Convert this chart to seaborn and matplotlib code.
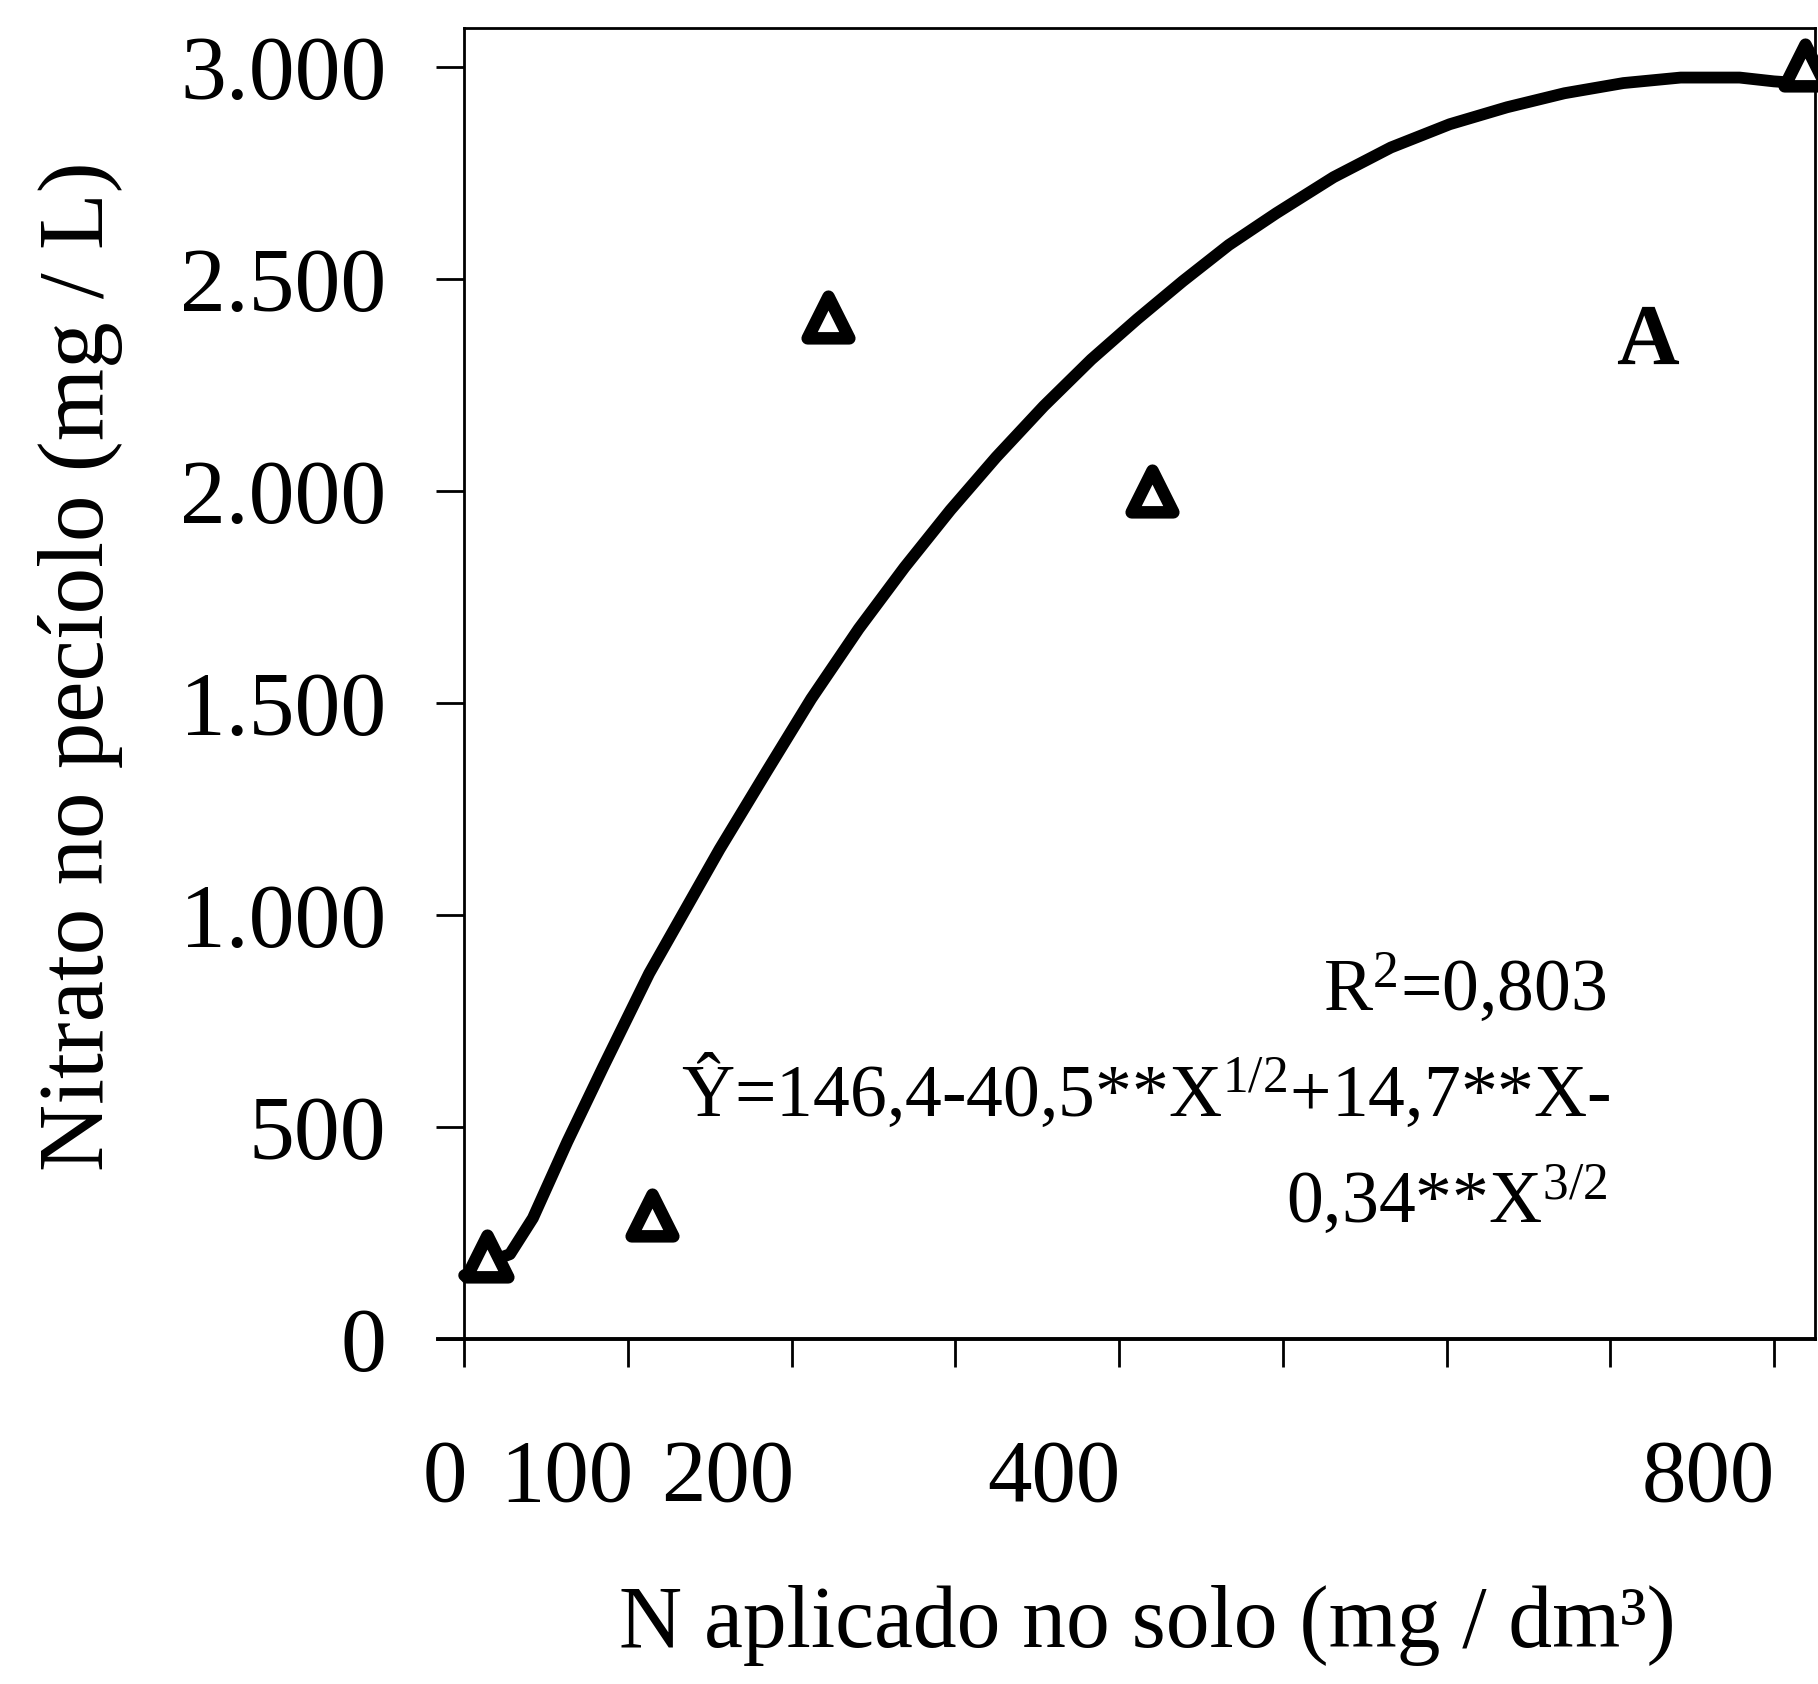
import matplotlib
matplotlib.use("Agg")
import matplotlib.pyplot as plt
import seaborn as sns
import pandas as pd

# -----------------------------
# Data
# -----------------------------
dose = [14, 115, 222, 420, 819]              # N aplicado (mg/dm3), triangles
nitrate = [195, 292, 2410, 2000, 3004]       # nitrato no pecíolo (mg/L)
dose_a = [723]                               # the point printed as an "A"
nitrate_a = [2368]

# fitted curve, traced point by point
curve_x = [0, 14, 28, 42, 63, 85, 113, 156, 185, 212, 241, 269, 297, 325,
           354, 383, 411, 439, 467, 496, 531, 566, 602, 637, 672, 708, 743,
           779, 800, 815]
curve_y = [150, 180, 200, 285, 465, 642, 862, 1155, 1340, 1510, 1675, 1820,
           1955, 2080, 2200, 2310, 2405, 2495, 2580, 2655, 2740, 2810, 2865,
           2905, 2938, 2962, 2975, 2975, 2966, 2962]

y_ticks = [0, 500, 1000, 1500, 2000, 2500, 3000]
y_labels = ["0", "500", "1.000", "1.500", "2.000", "2.500", "3.000"]
x_marks = [0, 100, 200, 300, 400, 500, 600, 700, 800]
# the x labels sit off their marks in the original figure
x_label_pos = [-12, 63, 161, 360, 760]
x_labels = ["0", "100", "200", "400", "800"]

pts = pd.DataFrame({"dose": dose, "nitrate": nitrate})
fit = pd.DataFrame({"dose": curve_x, "nitrate": curve_y})

# -----------------------------
# Style
# -----------------------------
sns.set_style("ticks")
plt.rcParams["font.family"] = ["Liberation Serif", "DejaVu Serif"]
plt.rcParams["text.color"] = "black"
plt.rcParams["axes.labelcolor"] = "black"
plt.rcParams["mathtext.fontset"] = "custom"
plt.rcParams["mathtext.rm"] = "Liberation Serif"
plt.rcParams["mathtext.it"] = "Liberation Serif:italic"
plt.rcParams["mathtext.bf"] = "Liberation Serif:bold"

fig = plt.figure(figsize=(18.18, 16.84), dpi=100)
ax = fig.add_axes([0.2409, 0.2049, 0.7574, 0.7785])

sns.lineplot(data=fit, x="dose", y="nitrate", color="black", linewidth=8.5,
             sort=False, ax=ax, zorder=2, solid_joinstyle="round",
             solid_capstyle="round")
sns.scatterplot(data=pts, x="dose", y="nitrate", marker="^", s=30 ** 2,
                facecolor="white", edgecolor="black", linewidth=9,
                ax=ax, zorder=3, clip_on=False)
sns.scatterplot(x=dose_a, y=nitrate_a, marker=r"$\mathbf{A}$", s=44 ** 2,
                color="black", linewidth=0, ax=ax, zorder=3)

ax.set_xlim(-16, 825)
ax.set_ylim(0, 3092)

# spines
for side in ["left", "right", "top", "bottom"]:
    ax.spines[side].set_visible(True)
    ax.spines[side].set_color("black")
    ax.spines[side].set_linewidth(2)
ax.spines["bottom"].set_linewidth(2.8)
ax.spines["left"].set_position(("data", 0))
ax.spines["top"].set_bounds(0, 825)

# ticks
ax.set_yticks(y_ticks)
ax.set_yticklabels(y_labels)
ax.tick_params(axis="y", direction="out", length=20, width=2, pad=36,
               labelsize=66, colors="black")
ax.set_xticks(x_label_pos)
ax.set_xticklabels(x_labels)
ax.set_xticks(x_marks, minor=True)
ax.tick_params(axis="x", which="major", length=0, pad=72, labelsize=64,
               colors="black")
ax.tick_params(axis="x", which="minor", direction="out", length=20, width=2,
               colors="black")

ax.set_xlabel("N aplicado no solo (mg / dm³)", fontsize=63)
ax.xaxis.set_label_coords(0.515, -0.188)
ax.set_ylabel("Nitrato no pecíolo (mg / L)", fontsize=67)
ax.yaxis.set_label_coords(-0.2288, 0.513)

# regression note
ax.text(698, 776, r"R$^{2}$=0,803", fontsize=53, ha="right", va="baseline")
ax.text(700, 526, r"Ŷ=146,4-40,5**X$^{1/2}$+14,7**X-", fontsize=53,
        ha="right", va="baseline")
ax.text(698, 276, r"0,34**X$^{3/2}$", fontsize=53, ha="right", va="baseline")

plt.savefig("out.png", dpi=100)
